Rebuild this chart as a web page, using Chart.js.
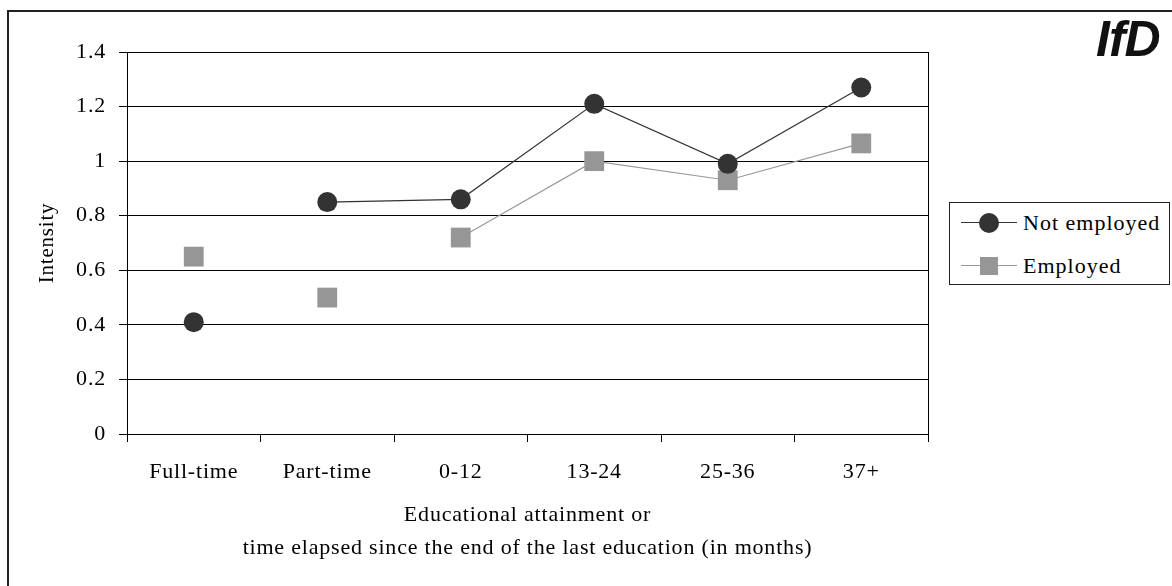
<!DOCTYPE html>
<html>
<head>
<meta charset="utf-8">
<script src="https://cdn.jsdelivr.net/npm/chart.js@4/dist/chart.umd.min.js"></script>
<style>
  body { margin: 0; background: #fff; font-family: "Liberation Serif", serif; }
  #wrap { position: relative; width: 1172px; height: 586px; overflow: hidden; }
  #frame { position: absolute; left: 7px; top: 10px; width: 1300px; height: 700px;
           border-left: 2px solid #222; border-top: 2px solid #222; }
  #c { position: absolute; left: 0; top: 0; }
  #logo { position: absolute; left: 1096px; top: 10px; font: italic bold 50px "Liberation Sans", Arial, sans-serif;
          letter-spacing: -1px; color: #111; }
  #legend { position: absolute; left: 949px; top: 202px; width: 219px; height: 81px;
            border: 1px solid #222; background: #fff; }
  .row { position: absolute; left: 0; height: 24px; width: 219px; }
  .row .ln { position: absolute; left: 11px; width: 56px; top: 11px; border-top: 1px solid; }
  .row .mk { position: absolute; }
  .row .tx { position: absolute; left: 73px; top: -1px; font-size: 22px; letter-spacing: 1px; color: #000; white-space: nowrap; }
</style>
</head>
<body>
<div id="wrap">
  <div id="frame"></div>
  <canvas id="c" width="1172" height="586"></canvas>
  <div id="logo">IfD</div>
  <div id="legend">
    <div class="row" style="top:8px">
      <div class="ln" style="border-color:#333"></div>
      <div class="mk" style="left:29px;top:2px;width:20px;height:20px;border-radius:50%;background:#333"></div>
      <div class="tx">Not employed</div>
    </div>
    <div class="row" style="top:51px">
      <div class="ln" style="border-color:#999"></div>
      <div class="mk" style="left:30px;top:3px;width:18px;height:18px;background:#969696"></div>
      <div class="tx">Employed</div>
    </div>
  </div>
</div>
<script>
const categories = ['Full-time', 'Part-time', '0-12', '13-24', '25-36', '37+'];
const notEmployed = [0.41, 0.85, 0.86, 1.21, 0.99, 1.27];
const employed = [0.65, 0.50, 0.72, 1.00, 0.93, 1.065];
// segments starting at these indices are not joined in the original
const notEmployedBreaks = [0];
const employedBreaks = [0, 1];

const serif = '"Liberation Serif", "Times New Roman", serif';

function gapColor(breaks, color) {
    return ctx => breaks.includes(ctx.p0DataIndex) ? 'rgba(0,0,0,0)' : color;
}

// slightly spaced text like the original, plus the right edge of the plot area
const plotFrame = {
    id: 'plotFrame',
    beforeDraw(chart) {
        chart.ctx.letterSpacing = '0.8px';
    },
    afterDraw(chart) {
        const { ctx, chartArea: a } = chart;
        ctx.save();
        ctx.strokeStyle = '#000';
        ctx.lineWidth = 1;
        ctx.beginPath();
        ctx.moveTo(Math.round(a.right) + 0.5, a.top);
        ctx.lineTo(Math.round(a.right) + 0.5, a.bottom);
        ctx.stroke();
        ctx.restore();
    }
};

new Chart(document.getElementById('c'), {
    type: 'line',
    data: {
        labels: categories,
        datasets: [
            {
                label: 'Not employed', data: notEmployed,
                borderColor: '#333', borderWidth: 1.2,
                pointStyle: 'circle', pointRadius: 10, pointHoverRadius: 10,
                pointBackgroundColor: '#333', pointBorderColor: '#333', pointBorderWidth: 0,
                segment: { borderColor: gapColor(notEmployedBreaks, '#333') }
            },
            {
                label: 'Employed', data: employed,
                borderColor: '#999', borderWidth: 1.2,
                pointStyle: 'rect', pointRadius: 14, pointHoverRadius: 14,
                pointBackgroundColor: '#969696', pointBorderColor: '#969696', pointBorderWidth: 0,
                segment: { borderColor: gapColor(employedBreaks, '#999') }
            }
        ]
    },
    options: {
        responsive: false, animation: false,
        layout: { padding: { left: 0, top: 52, right: 244, bottom: 0 } },
        plugins: { legend: { display: false }, tooltip: { enabled: false } },
        scales: {
            x: {
                offset: true,
                grid: { offset: true, drawOnChartArea: false, drawTicks: true, tickLength: 8, tickColor: '#000' },
                border: { color: '#000', width: 1 },
                ticks: { color: '#000', padding: 17, font: { family: serif, size: 22 }, maxRotation: 0 },
                title: {
                    display: true,
                    text: ['Educational attainment or', 'time elapsed since the end of the last education (in months)'],
                    color: '#000', font: { family: serif, size: 22, lineHeight: '33px' },
                    padding: { top: 0, bottom: 21 }
                },
                afterFit: s => { s.height = 152; }
            },
            y: {
                min: 0, max: 1.4,
                grid: { color: '#000', lineWidth: 1, tickLength: 8, tickColor: '#000' },
                border: { color: '#000', width: 1 },
                ticks: {
                    stepSize: 0.2, color: '#000', padding: 13,
                    font: { family: serif, size: 22 },
                    callback: v => String(+v.toFixed(1))
                },
                title: {
                    display: true, text: 'Intensity', color: '#000',
                    font: { family: serif, size: 21 }, padding: { top: 35, bottom: 0 }
                },
                afterFit: s => { s.width = 127; }
            }
        }
    },
    plugins: [plotFrame]
});
</script>
</body>
</html>
